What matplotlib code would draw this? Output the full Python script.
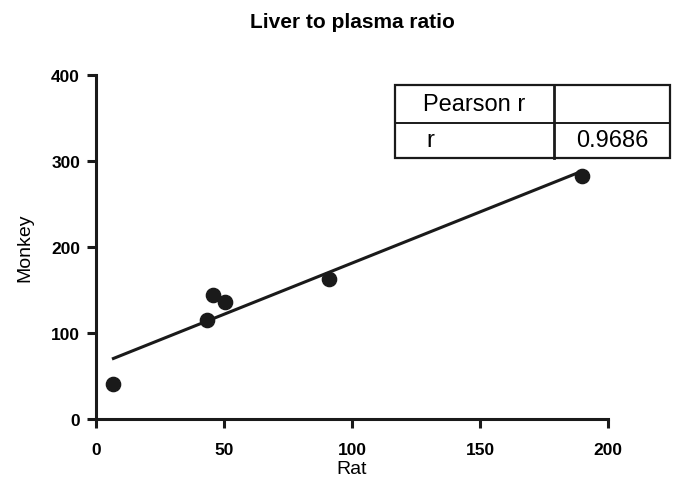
import numpy as np
import matplotlib
matplotlib.use("Agg")
import matplotlib.pyplot as plt
from matplotlib.patches import Rectangle
from matplotlib.lines import Line2D

rat = [6.8, 43.2, 45.6, 50.5, 91.1, 189.8]
monkey = [40.7, 115.5, 144.2, 136.4, 162.8, 282.2]
x_ticks = [0, 50, 100, 150, 200]
y_ticks = [0, 100, 200, 300, 400]
pearson_r = "0.9686"

plt.rcParams["font.family"] = ["Liberation Sans", "DejaVu Sans"]

W, H = 673, 502
fig = plt.figure(figsize=(W / 100, H / 100), dpi=100)
ax = fig.add_axes([96 / W, 1 - 420 / H, (608 - 96) / W, (420 - 76) / H])

ink = "#1a1a1a"
ax.scatter(rat, monkey, s=105, color=ink, zorder=3, clip_on=False)

slope, icpt = np.polyfit(rat, monkey, 1)
xs = np.array([min(rat), max(rat)])
ax.plot(xs, slope * xs + icpt, color=ink, lw=2.2, zorder=2)

ax.set_xlim(0, 200)
ax.set_ylim(0, 400)
ax.set_xticks(x_ticks)
ax.set_yticks(y_ticks)
ax.set_xticklabels([str(t) for t in x_ticks], fontweight="bold", fontsize=12.5)
ax.set_yticklabels([str(t) for t in y_ticks], fontweight="bold", fontsize=12.5)
for s in ("top", "right"):
    ax.spines[s].set_visible(False)
for s in ("left", "bottom"):
    ax.spines[s].set_linewidth(2.2)
    ax.spines[s].set_color(ink)
ax.tick_params(direction="out", length=6.5, width=2.2, color=ink)
ax.tick_params(axis="x", pad=10)
ax.tick_params(axis="y", pad=5)

ax.set_xlabel("Rat", fontsize=14, labelpad=2)
ax.set_ylabel("Monkey", fontsize=14, labelpad=13)
fig.text(352 / W, 1 - 22 / H, "Liver to plasma ratio", ha="center", va="center",
         fontsize=15, fontweight="bold")

# Pearson r results table (pixel coordinates -> figure fraction)
def fx(px):
    return px / W

def fy(py):
    return 1 - py / H

left, mid, right = 395, 554, 670
top, rowsep, bottom = 86, 124, 159
fig.patches.append(Rectangle((fx(left), fy(bottom)), fx(right) - fx(left), fy(top) - fy(bottom),
                             transform=fig.transFigure, fill=False, lw=1.6, ec=ink))
fig.lines.append(Line2D([fx(left), fx(right)], [fy(rowsep), fy(rowsep)],
                        transform=fig.transFigure, lw=1.4, color=ink))
fig.lines.append(Line2D([fx(mid), fx(mid)], [fy(top), fy(bottom)],
                        transform=fig.transFigure, lw=2.0, color=ink))
fig.text(fx((left + mid) / 2), fy((top + rowsep) / 2), "Pearson r", ha="center", va="center",
         fontsize=17)
fig.text(fx(426), fy((rowsep + bottom) / 2), "r", ha="left", va="center", fontsize=17)
fig.text(fx((mid + right) / 2), fy((rowsep + bottom) / 2), pearson_r, ha="center", va="center",
         fontsize=17)

fig.savefig("out.png", dpi=100)
